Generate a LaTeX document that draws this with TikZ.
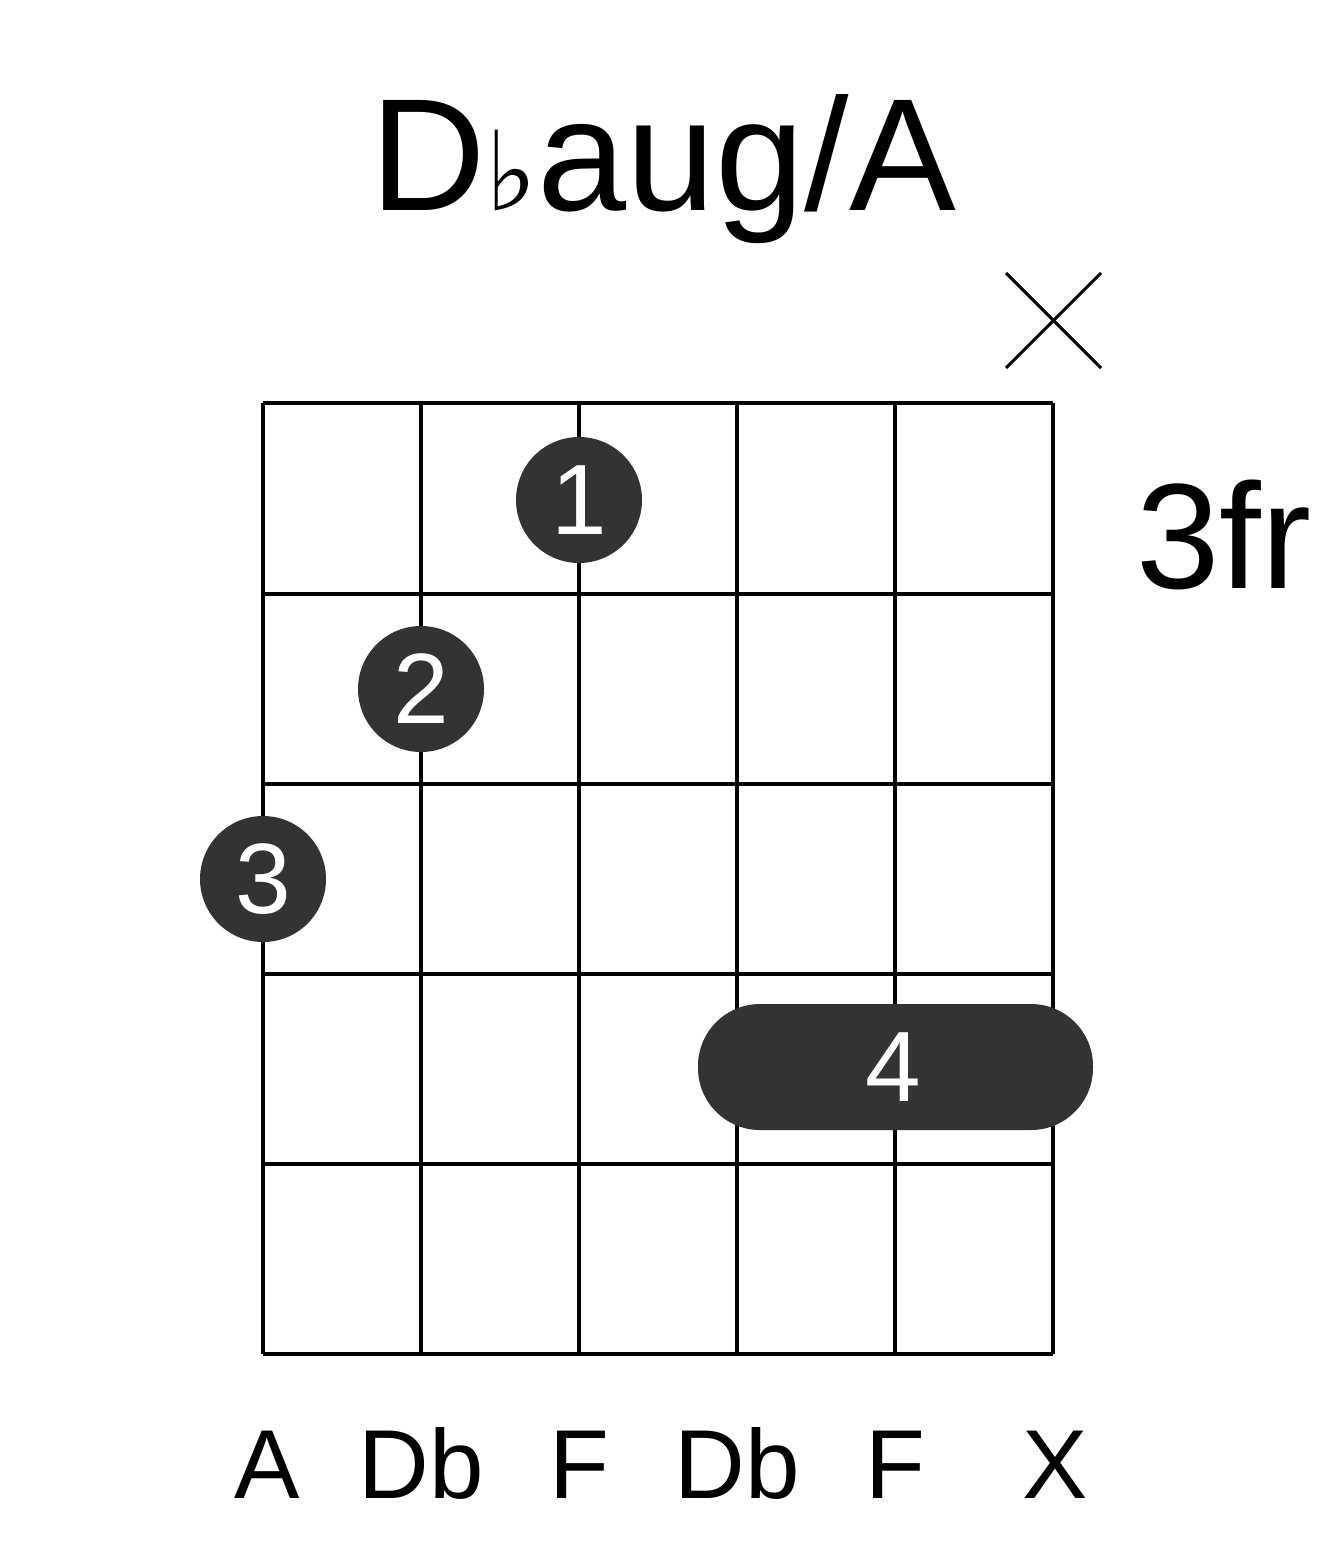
\documentclass[tikz,border=0pt]{standalone}
\usepackage{fontspec}
\setmainfont{Liberation Sans}
\newfontfamily\symfont{DejaVu Sans}
\definecolor{dot}{HTML}{333333}
\begin{document}
\begin{tikzpicture}[x=1pt,y=-1pt,
  grid/.style={line width=4pt,black},
  fdot/.style={circle,fill=dot,minimum size=126pt,inner sep=0pt,text=white,font=\fontsize{100}{100}\selectfont},
  lbl/.style={font=\fontsize{98}{98}\selectfont,anchor=base}]
\useasboundingbox (0,0) rectangle (1317,1551);
\foreach \x in {263,421,579,737,895,1053} \draw[grid] (\x,403) -- (\x,1354);
\foreach \y in {403,594,784,974,1164,1354} \draw[grid] (263,\y) -- (1053,\y);
\node[anchor=base,font=\fontsize{160}{160}\selectfont] (title) at (663,210) {D{\symfont\fontsize{110}{110}\selectfont ♭}aug/A};
\node[anchor=base west,font=\fontsize{150}{150}\selectfont,inner sep=0pt] (fr) at (1136,588) {3fr};
\coordinate (xa) at (1006,273); \coordinate (xb) at (1101,368);
\coordinate (xc) at (1101,273); \coordinate (xd) at (1006,368);
\draw[line width=3pt] (xa) -- (xb) (xc) -- (xd);
\node[fdot] (d1) at (579,500) {1};
\node[fdot] (d2) at (421,689) {2};
\node[fdot] (d3) at (263,879) {3};
\fill[dot,rounded corners=62pt] (698,1004) rectangle (1093,1130);
\node[text=white,font=\fontsize{100}{100}\selectfont] (d4) at (893,1067) {4};
\foreach \x/\t [count=\i] in {267/A,421/Db,579/F,737/Db,895/F,1055/X}
  \node[lbl] (s\i) at (\x,1498) {\t};
\end{tikzpicture}
\end{document}
